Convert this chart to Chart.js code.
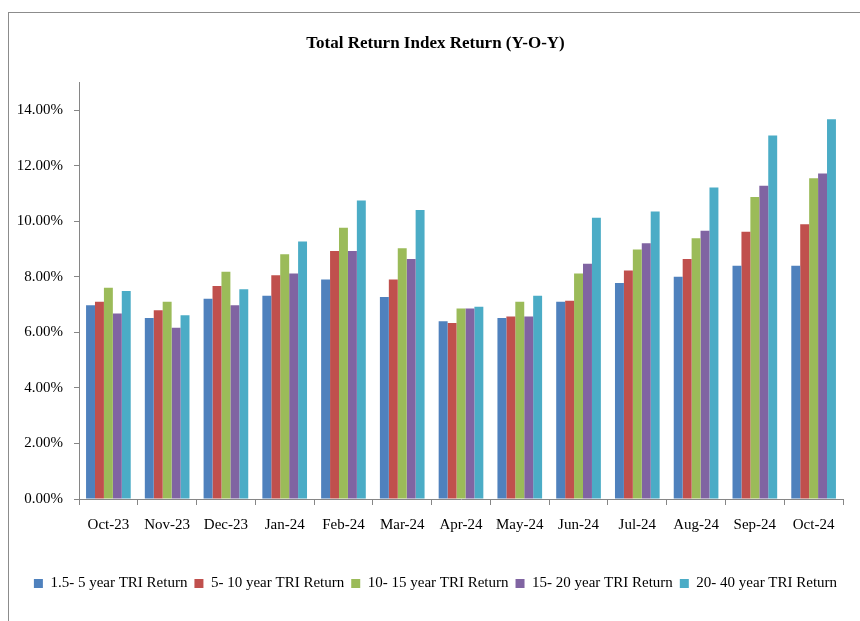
<!DOCTYPE html>
<html>
<head>
<meta charset="utf-8">
<script src="https://cdn.jsdelivr.net/npm/chart.js@4"></script>
<style>
  html,body{margin:0;padding:0;background:#fff;overflow:hidden;}
  #wrap{position:relative;width:860px;height:621px;}
  #frame{position:absolute;left:8px;top:12px;width:900px;height:700px;border:1px solid #8c8c8c;box-sizing:border-box;}
  canvas{position:absolute;left:0;top:0;}
</style>
</head>
<body>
<div id="wrap">
  <div id="frame"></div>
  <canvas id="tri" width="860" height="621"></canvas>
</div>
<script>
// data (percent)
const months = ['Oct-23','Nov-23','Dec-23','Jan-24','Feb-24','Mar-24','Apr-24','May-24','Jun-24','Jul-24','Aug-24','Sep-24','Oct-24'];
const seriesNames = ['1.5- 5 year TRI Return','5- 10 year TRI Return','10- 15 year TRI Return','15- 20 year TRI Return','20- 40 year TRI Return'];
const tri1_5 = [6.98,6.52,7.21,7.32,7.90,7.27,6.40,6.52,7.10,7.78,8.00,8.40,8.40];
const tri5_10 = [7.10,6.80,7.67,8.06,8.93,7.90,6.34,6.57,7.14,8.23,8.64,9.62,9.89];
const tri10_15 = [7.61,7.10,8.18,8.81,9.77,9.03,6.86,7.10,8.12,8.98,9.39,10.87,11.55];
const tri15_20 = [6.68,6.17,6.98,8.12,8.93,8.64,6.86,6.57,8.47,9.21,9.66,11.28,11.72];
const tri20_40 = [7.49,6.62,7.55,9.27,10.75,10.41,6.92,7.32,10.13,10.35,11.22,13.09,13.67];
const colors = ['#4F81BD','#C0504D','#9BBB59','#8064A2','#4BACC6'];

const serif = "'Liberation Serif','Times New Roman',serif";
const axisGray = '#868686';

const values = [tri1_5, tri5_10, tri10_15, tri15_20, tri20_40];
const datasets = values.map((v,i)=>({
  label: seriesNames[i],
  data: v,
  backgroundColor: colors[i],
  borderWidth: 0,
  categoryPercentage: 0.76,
  barPercentage: 1.0
}));

// title and legend sit a bit right of the canvas centre in the original
const shiftBoxes = {
  id: 'shiftBoxes',
  afterLayout(chart){
    [chart.titleBlock, chart.legend].forEach(b=>{ if(b){ b.left += 14; b.right += 14; } });
  }
};

new Chart(document.getElementById('tri'), {
  type: 'bar',
  data: {labels: months, datasets},
  plugins: [shiftBoxes],
  options: {
    responsive: false,
    animation: false,
    layout: {padding: {left: 0, right: 17, top: 0, bottom: 20}},
    plugins: {
      title: {
        display: true,
        text: 'Total Return Index Return (Y-O-Y)',
        color: '#000',
        font: {family: serif, size: 17, weight: 'bold'},
        padding: {top: 33, bottom: 29}
      },
      legend: {
        position: 'bottom',
        labels: {
          color: '#000',
          font: {family: serif, size: 15},
          boxWidth: 9, boxHeight: 9,
          padding: 7
        }
      },
      tooltip: {enabled: false}
    },
    scales: {
      x: {
        grid: {display: true, drawOnChartArea: false, tickLength: 6, color: axisGray, offset: true},
        border: {color: axisGray},
        ticks: {color: '#000', font: {family: serif, size: 15}, padding: 11, maxRotation: 0},
        afterFit: s => { s.height = 70; }
      },
      y: {
        min: 0, max: 15,
        grid: {display: true, drawOnChartArea: false, tickLength: 5, color: axisGray},
        border: {color: axisGray},
        ticks: {
          stepSize: 2, color: '#000', font: {family: serif, size: 15}, padding: 11,
          callback: v => v.toFixed(2) + '%'
        },
        afterBuildTicks: s => { s.ticks = s.ticks.filter(t => t.value % 2 === 0); },
        afterFit: s => { s.width = 79; }
      }
    }
  }
});
</script>
</body>
</html>
